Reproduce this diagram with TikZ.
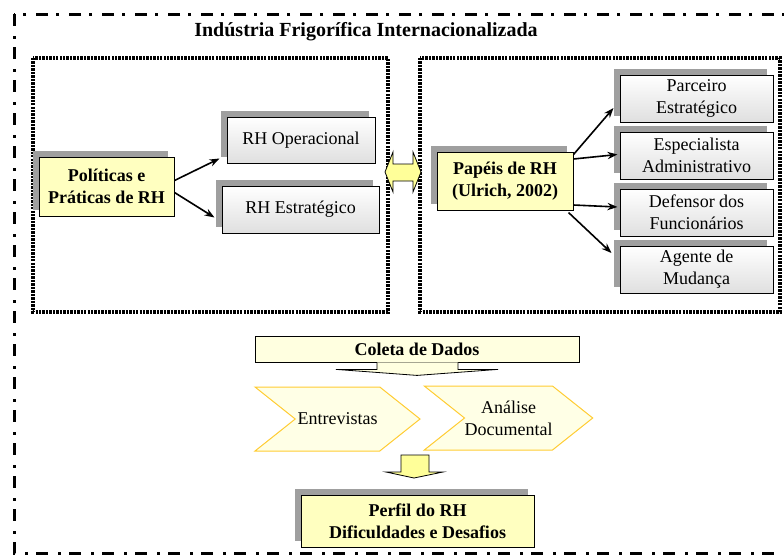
\documentclass[tikz,border=0pt]{standalone}
\usepackage{fontspec}
\setmainfont{Liberation Serif}
\usetikzlibrary{positioning}
\usetikzlibrary{calc,shadows,shapes.symbols,arrows.meta}

\definecolor{boxyellow}{RGB}{255,255,192}
\definecolor{paleyellow}{RGB}{255,255,224}
\definecolor{chevfill}{RGB}{255,255,230}
\definecolor{chevline}{RGB}{255,204,51}
\definecolor{arrowyellow}{RGB}{255,255,153}

\begin{document}
\begin{tikzpicture}[x=0.75pt, y=-0.75pt,
        every node/.style={font=\fontsize{13.5}{16.5}\selectfont, align=center, inner sep=0pt},
        shadowed/.style={general shadow={fill=gray!75, shadow xshift=-4.5pt, shadow yshift=4.5pt}},
        yellowbox/.style={shadowed, draw=black, line width=0.75pt, fill=boxyellow,
                          font=\fontsize{13.5}{16.5}\selectfont\bfseries},
        graybox/.style={shadowed, draw=black, line width=0.75pt, top color=white, bottom color=gray!25,
                        minimum width=114.75pt, minimum height=35.25pt},
        chevron/.style={signal, signal from=west, signal to=east, signal pointer angle=77,
                        draw=chevline, line width=0.75pt, fill=chevfill,
                        minimum width=123.75pt, minimum height=48pt},
        frame/.style={line width=2.25pt, dash pattern=on 9pt off 7.5pt on 2.25pt off 6pt},
        dotbox/.style={line width=2.6pt, dash pattern=on 1.8pt off 0.8pt},
        >={Stealth[length=7.5pt,width=5.5pt]},
        link/.style={->, line width=1.2pt},
        block/.style={draw=black, fill=arrowyellow, line width=0.6pt}]

        \useasboundingbox (0,0) rectangle (784,554);

        % outer frame and the two groups
        \draw[frame] (14,14) rectangle (812,553);
        \node (title) [anchor=base, font=\fontsize{15}{17}\selectfont\bfseries] at (366,36)
            {Indústria Frigorífica Internacionalizada};
        \draw[dotbox] (33,58) rectangle (388,312);
        \draw[dotbox] (420,58) rectangle (780,312);

        % left group
        \node (pol) [yellowbox, minimum width=101.25pt, minimum height=44.25pt] at (106.5,186.5)
            {Políticas e\\Práticas de RH};
        \node (op) [graybox, minimum width=111pt, minimum height=34.5pt] at (301,140) {RH Operacional};
        \node (est) [graybox, minimum width=117.75pt] at (300.5,209.5) {RH Estratégico};

        \draw[link] ($(pol.east)+(0,-6)$) -- ($(op.south west)+(-7,-5)$);
        \draw[link] ($(pol.east)+(0,6)$) -- ($(est.west)+(-7,8)$);

        % link between the groups
        \draw[block] (385,172) -- (393,152) -- (393,164) -- (413,164) -- (413,152) -- (421,172)
            -- (413,192) -- (413,181) -- (393,181) -- (393,192) -- cycle;

        % right group
        \node (pap) [yellowbox, minimum width=102pt, minimum height=43.5pt] at (505,181)
            {Papéis de RH\\(Ulrich, 2002)};
        \node (parc) [graybox] at (696.5,98.5) {Parceiro\\Estratégico};
        \node (esp) [graybox, below=6.75pt of parc] {Especialista\\Administrativo};
        \node (def) [graybox, below=6.75pt of esp] {Defensor dos\\Funcionários};
        \node (age) [graybox, below=6.75pt of def] {Agente de\\Mudança};

        \draw[link] ($(pap.north east)+(0,3)$) -- ($(parc.west)+(-6,9.5)$);
        \draw[link] ($(pap.east)+(0,-22)$) -- ($(esp.west)+(-2,-1)$);
        \draw[link] ($(pap.east)+(0,24)$) -- ($(def.west)+(-2,-5.5)$);
        \draw[link] ($(pap.south east)+(-5,2)$) -- ($(age.west)+(-8,-16.5)$);

        % data collection
        \node (coleta) [draw=black, line width=0.6pt, fill=paleyellow, minimum width=243pt,
                        minimum height=19.5pt, font=\fontsize{13.5}{16.5}\selectfont\bfseries]
            at (417,349) {Coleta de Dados};
        \draw[fill=paleyellow, line width=0.6pt] ($(coleta.south)+(-40,0)$) -- ++(0,7) -- ++(-41,0)
            -- ($(coleta.south)+(0,13)$) -- ($(coleta.south)+(81,7)$) -- ++(-40,0) -- ++(0,-7);

        \node (ent) [chevron] at (337.5,419) {Entrevistas};
        \node (anl) [chevron] at (508.5,418) {Análise\\Documental};

        \draw[block] (401,455) -- (429,455) -- (429,472) -- (443,472) -- (414,478) -- (386,472)
            -- (401,472) -- cycle;

        \node (perfil) [yellowbox, minimum width=174.75pt, minimum height=39pt] at (417.5,521)
            {Perfil do RH\\Dificuldades e Desafios};

    \end{tikzpicture}
\end{document}
